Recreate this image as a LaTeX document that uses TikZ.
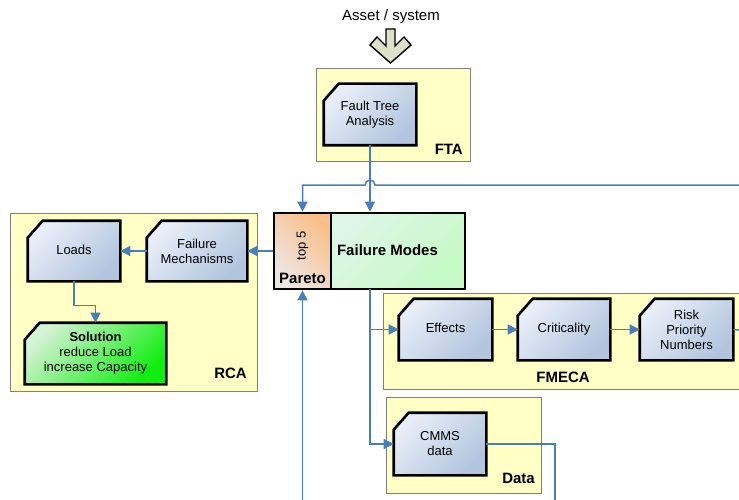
\documentclass[tikz,border=0pt]{standalone}
\usepackage{fontspec}
\setmainfont{Liberation Sans}
\usetikzlibrary{arrows.meta,calc}

\definecolor{panelfill}{HTML}{FFFFC6}
\definecolor{panelline}{HTML}{808080}
\definecolor{boxlight}{HTML}{E8EEF8}
\definecolor{boxdark}{HTML}{B2C4DE}
\definecolor{linkblue}{HTML}{4A7EBB}
\definecolor{arrowfill}{HTML}{DDE1C9}
\definecolor{paretolight}{HTML}{EEE6E6}
\definecolor{paretodark}{HTML}{F9BF88}
\definecolor{modelight}{HTML}{DDF6E6}
\definecolor{modedark}{HTML}{C6F9C6}
\definecolor{sollight}{HTML}{D4F2D4}
\definecolor{soldark}{HTML}{10EE10}

\pgfdeclarelayer{panels}
\pgfdeclarelayer{boxes}
\pgfsetlayers{panels,boxes,main}

\tikzset{
  panel/.style={draw=panelline, fill=panelfill, line width=0.8pt},
  stepbox/.style={rectangle, align=center, inner sep=2pt, outer sep=1.3pt,
    font=\fontsize{13}{15}\selectfont},
  oneline/.style={text height=9.5pt, text depth=3pt},
  tag/.style={font=\fontsize{15}{18}\selectfont\bfseries, inner sep=0pt},
  link/.style={draw=linkblue, line width=1.5pt,
    -{Triangle[width=10pt,length=10pt]}},
  plain link/.style={draw=linkblue, line width=1.5pt},
}

% chamfered (north west corner cut) body drawn behind a step node
\newcommand\chamferbody[3]{%
  \shade[top color=#2, bottom color=#3, shading angle=45]
    ([yshift=-17pt]#1.north west) -- ([xshift=15pt]#1.north west)
    -- (#1.north east) -- (#1.south east) -- (#1.south west) -- cycle;
  \draw[line width=2.6pt, line join=miter]
    ([yshift=-17pt]#1.north west) -- ([xshift=15pt]#1.north west)
    -- (#1.north east) -- (#1.south east) -- (#1.south west) -- cycle;}

\begin{document}
\begin{tikzpicture}[x=1pt, y=-1pt]
\useasboundingbox (0,0) rectangle (739,500);

% input arrow and caption
\node[font=\fontsize{15}{17}\selectfont, anchor=base] (asset) at (391,21) {Asset / system};
\draw[fill=arrowfill, line width=1.4pt, line join=miter]
  (386,29) -- (395,29) -- (395,46) -- (404,37) -- (411,45) -- (390.5,63)
  -- (370,45) -- (377,37) -- (386,46) -- cycle;

% group panels
\begin{pgfonlayer}{panels}
\draw[panel] (316,68) rectangle (470,161);
\draw[panel] (10,213) rectangle (257,391);
\draw[panel] (383,293) rectangle (745,389);
\draw[panel] (386,397) rectangle (541,493);
\end{pgfonlayer}

\node[tag, anchor=base east] (ftatag) at (463,154) {FTA};
\node[tag, anchor=base east] (rcatag) at (247,378) {RCA};
\node[tag, anchor=base] (fmecatag) at (563,382) {FMECA};
\node[tag, anchor=base east] (datatag) at (535,483) {Data};

% process steps
\node[stepbox, minimum width=90pt, minimum height=59pt] (fta) at (370,114.5) {Fault Tree\\Analysis};
\node[stepbox, minimum width=98pt, minimum height=58pt] (fmech) at (197,251) {Failure\\Mechanisms};
\node[stepbox, oneline, minimum width=90pt, minimum height=58pt] (loads) at (74,251) {Loads};
\node[stepbox, minimum width=139pt, minimum height=59pt] (solution) at (95.5,353.5)
  {\textbf{Solution}\\reduce Load\\increase Capacity};
\node[stepbox, oneline, minimum width=91pt, minimum height=59pt] (effects) at (445.5,329.5) {Effects};
\node[stepbox, oneline, minimum width=90pt, minimum height=59pt] (crit) at (564,329.5) {Criticality};
\node[stepbox, minimum width=91pt, minimum height=59pt] (rpn) at (686.5,329.5) {Risk\\Priority\\Numbers};
\node[stepbox, minimum width=90pt, minimum height=60pt] (cmms) at (440,444) {CMMS\\data};

\begin{pgfonlayer}{boxes}
\foreach \n in {fta,fmech,loads,effects,crit,rpn,cmms}{\chamferbody{\n}{boxlight}{boxdark}}
\chamferbody{solution}{sollight}{soldark}
\end{pgfonlayer}

% Pareto / Failure Modes block
\node[rectangle, draw=black, line width=2.6pt, minimum width=57pt, minimum height=76pt,
  inner sep=0pt, top color=paretodark, middle color=paretodark, bottom color=paretolight,
  shading angle=-45] (pareto) at (302.5,251) {};
\node[rectangle, draw=black, line width=2.6pt, minimum width=134pt, minimum height=76pt,
  inner sep=0pt, top color=modelight, bottom color=modedark, shading angle=45]
  (fm) at (398,251) {};
\node[tag, anchor=base] (fmtext) at (387.5,255) {Failure Modes};
\node[font=\fontsize{13}{15}\selectfont, rotate=90, inner sep=0pt] (top5) at (302.5,246) {top 5};
\node[tag, anchor=base] (paretotext) at (302.5,283) {Pareto};

% loose ends at the picture border
\coordinate (fbin) at (739,185);
\coordinate (rpnout) at (739,330);
\coordinate (cmmsout) at (555,500);
\coordinate (paretoin) at (302.5,500);
\coordinate (split) at (370,289);

% connectors
\draw[link] (fta.south) -- (fta.south |- fm.north);
\draw[link] (fbin) -- (375,185) arc[start angle=0, end angle=180, radius=5pt]
  -- (pareto.north |- fbin) -- (pareto.north);
\draw[link] (pareto.west) -- (fmech.east);
\draw[link] (fmech.west) -- (loads.east);
\draw[link] (loads.south) -- ++(0,24) -| (solution.north);
\draw[link] (split) |- (cmms.west);
\draw[link] (split |- effects.west) -- (effects.west);
\draw[link] (effects.east) -- (crit.west);
\draw[link] (crit.east) -- (rpn.west);
\draw[plain link] (rpn.east) -- (rpnout);
\draw[plain link] (cmms.east) -| (cmmsout);
\draw[link] (paretoin) -- (pareto.south);
\end{tikzpicture}
\end{document}
